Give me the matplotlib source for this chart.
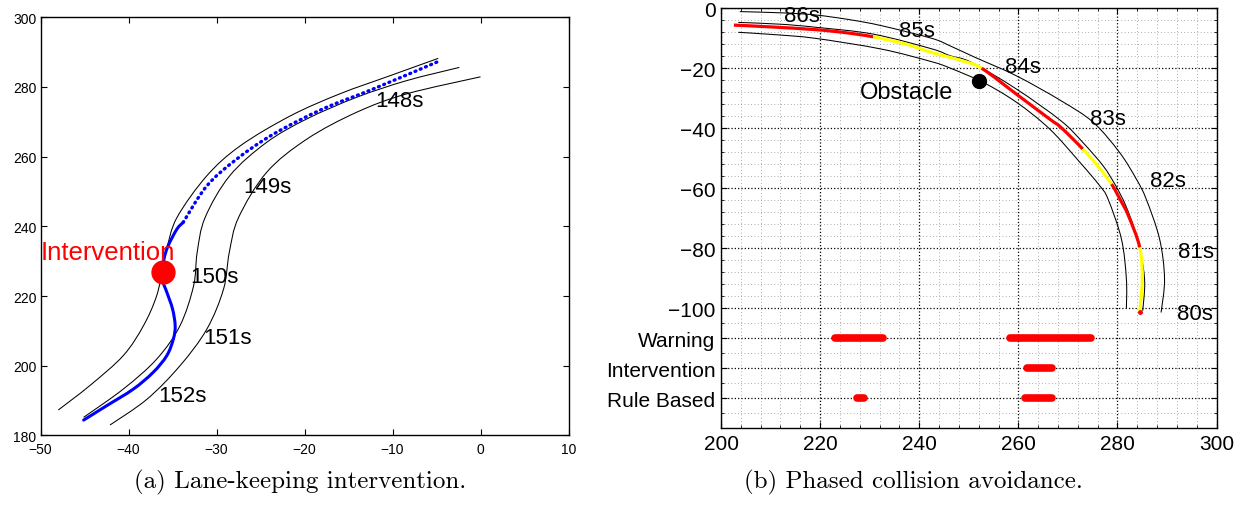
import matplotlib
matplotlib.use("Agg")
import matplotlib.pyplot as plt
from matplotlib.path import Path
from matplotlib.patches import PathPatch
import numpy as np

plt.rcParams['font.family'] = ['Liberation Sans', 'DejaVu Sans']

# ---- (a) lane keeping ----
lane_outer_x = [-47.98, -44.4, -40.6, -38.3, -36.8, -36.05, -35.66, -34.5, -31.1, -27.3, -21.6, -16.0, -10.3, -4.8]
lane_outer_y = [187.3, 194.3, 202.9, 211.5, 220.1, 228.7, 233.5, 242.5, 254.5, 263.1, 271.7, 278.0, 283.2, 288.2]
lane_mid_x = [-45.1, -40.6, -36.8, -34.15, -32.6, -32.2, -31.3, -28.5, -24.3, -19.75, -14.1, -8.4, -2.4]
lane_mid_y = [185.2, 193.3, 201.9, 211.5, 223.0, 232.5, 242.5, 254.5, 264.1, 270.8, 277.0, 281.8, 285.6]
lane_inner_x = [-42.1, -37.9, -34.15, -31.1, -29.2, -28.55, -27.5, -24.3, -19.75, -14.1, -8.4, 0.0]
lane_inner_y = [183.0, 190.4, 200.0, 210.5, 222.0, 232.5, 242.5, 255.5, 265.0, 272.7, 278.0, 282.9]

car_solid_x = [-45.1, -42.5, -39.45, -37.2, -35.65, -34.9, -34.7, -35.0, -35.65, -36.05, -36.1, -35.97, -35.5, -34.5, -33.8]
car_solid_y = [184.4, 188.5, 193.3, 198.1, 202.9, 207.7, 211.5, 216.3, 221.1, 223.9, 226.8, 230.6, 234.4, 239.2, 241.1]
car_dot_x = [-33.8, -31.1, -27.7, -23.5, -17.9, -12.2, -4.7]
car_dot_y = [241.1, 251.6, 259.3, 266.5, 273.7, 279.4, 287.4]

interv_pt = (-36.1, 226.8)
left_times = ['148s', '149s', '150s', '151s', '152s']
left_time_x = [-12.0, -26.95, -33.0, -31.5, -36.6]
left_time_y = [274.4, 249.8, 224.1, 206.5, 190.0]

# ---- (b) collision avoidance ----
road_outer_x = [203.8, 212.0, 218.95, 226.0, 232.4, 242.5, 246.2, 251.2, 259.6, 268.6, 275.1, 280.4, 283.8, 285.8, 288.5, 289.5, 288.8]
road_outer_y = [-1.1, -1.5, -2.2, -3.8, -5.8, -10.0, -12.5, -16.3, -22.5, -30.8, -38.0, -48.0, -56.9, -63.6, -76.9, -90.2, -101.4]
road_mid_x = [203.5, 212.0, 219.0, 230.7, 242.5, 246.2, 250.5, 259.6, 268.6, 273.0, 277.1, 279.6, 281.6, 283.4, 284.8, 285.5, 285.1]
road_mid_y = [-4.7, -5.3, -6.3, -8.6, -13.5, -15.8, -18.0, -26.9, -37.5, -44.7, -52.5, -59.0, -65.5, -73.5, -82.5, -91.5, -100.8]
road_inner_x = [203.5, 211.0, 219.0, 232.4, 242.5, 246.2, 252.9, 259.6, 266.3, 272.4, 276.4, 278.1, 280.8, 281.8, 281.8]
road_inner_y = [-8.0, -8.8, -10.0, -13.6, -17.8, -19.9, -24.7, -31.3, -40.2, -51.3, -59.1, -63.6, -76.9, -90.2, -100.2]

path_x = [202.6, 210.0, 219.0, 225.0, 230.7, 237.0, 242.5, 248.5, 252.6, 259.6, 266.3, 268.6, 273.0,
          276.0, 278.8, 280.5, 282.2, 284.5, 285.0, 284.5]
path_y = [-5.6, -6.2, -7.1, -8.1, -9.5, -11.8, -14.7, -17.4, -20.0, -28.6, -36.9, -39.7, -46.9,
          -52.5, -58.6, -63.6, -69.1, -79.7, -90.2, -101.1]
# index ranges of each phase along the path and its colour
phase_idx = [(0, 4), (4, 8), (8, 12), (12, 14), (14, 17), (17, 19)]
phase_col = ['red', 'yellow', 'red', 'yellow', 'red', 'yellow']

obstacle = (252.1, -24.3)
right_times = ['86s', '85s', '84s', '83s', '82s', '81s', '80s']
right_time_x = [212.8, 235.9, 257.3, 274.4, 286.5, 292.2, 292.0]
right_time_y = [-4.1, -9.3, -21.3, -38.6, -59.3, -83.0, -103.6]

warning_spans = [(223.1, 232.7), (258.4, 274.7)]
intervention_spans = [(261.7, 266.8)]
rule_spans = [(227.5, 228.8), (261.3, 266.8)]
row_y = {'Warning': -110, 'Intervention': -120, 'Rule Based': -130}

yticks_b = [-130, -120, -110, -100, -80, -60, -40, -20, 0]
ylabels_b = ['Rule Based', 'Intervention', 'Warning', '\u2212100', '\u221280', '\u221260', '\u221240', '\u221220', '0']


def bezier_pieces(xs, ys):
    # smooth curve through the read points (Catmull-Rom as cubic Bezier)
    P = np.column_stack([xs, ys]).astype(float)
    n = len(P)
    pieces = []
    for i in range(n - 1):
        p0 = P[i - 1] if i > 0 else P[i]
        p3 = P[i + 2] if i + 2 < n else P[i + 1]
        c1 = P[i] + (P[i + 1] - p0) / 6.0
        c2 = P[i + 1] - (p3 - P[i]) / 6.0
        pieces.append((P[i], c1, c2, P[i + 1]))
    return pieces


def draw_smooth(ax, pieces, **kw):
    verts = [pieces[0][0]]
    codes = [Path.MOVETO]
    for _, c1, c2, p in pieces:
        verts += [c1, c2, p]
        codes += [Path.CURVE4] * 3
    ax.add_patch(PathPatch(Path(verts, codes), fill=False, **kw))


def main():
    fig = plt.figure(figsize=(12.47, 5.06), dpi=100)

    ax = fig.add_axes([0.0325, 0.1375, 0.4234, 0.8265])
    for xs, ys in [(lane_outer_x, lane_outer_y), (lane_mid_x, lane_mid_y), (lane_inner_x, lane_inner_y)]:
        draw_smooth(ax, bezier_pieces(xs, ys), edgecolor='black', lw=0.75)
    draw_smooth(ax, bezier_pieces(car_solid_x, car_solid_y), edgecolor='blue', lw=2.2,
                capstyle='round')
    draw_smooth(ax, bezier_pieces(car_dot_x, car_dot_y), edgecolor='blue', lw=2.4,
                linestyle=(0, (0.3, 1.4)), capstyle='round')
    ax.plot(*interv_pt, 'o', color='red', ms=16.5, zorder=1)
    ax.text(-50, 230.6, 'Intervention', color='red', fontsize=18.5, ha='left', va='baseline')
    for t, x, y in zip(left_times, left_time_x, left_time_y):
        ax.text(x, y, t, fontsize=16, ha='left', va='baseline')
    ax.set_xlim(-50, 10)
    ax.set_ylim(180, 300)
    ax.set_xticks(np.arange(-50, 11, 10))
    ax.set_yticks(np.arange(180, 301, 20))
    ax.tick_params(direction='in', top=True, right=True, labelsize=10, length=4, pad=3)
    ax.tick_params(axis='x', pad=5)
    for s in ax.spines.values():
        s.set_linewidth(1.0)

    bx = fig.add_axes([0.5782, 0.1516, 0.3974, 0.830])
    for xs, ys in [(road_outer_x, road_outer_y), (road_mid_x, road_mid_y), (road_inner_x, road_inner_y)]:
        draw_smooth(bx, bezier_pieces(xs, ys), edgecolor='black', lw=0.75, zorder=3)
    pp = bezier_pieces(path_x, path_y)
    for (i0, i1), c in zip(phase_idx, phase_col):
        draw_smooth(bx, pp[i0:i1], edgecolor=c, lw=2.3, zorder=4, capstyle='butt')
    bx.plot(path_x[-1], path_y[-1], 'o', color='red', ms=2.5, zorder=5)
    bx.plot(*obstacle, 'o', color='black', ms=10, zorder=5)
    bx.text(228.0, -30.0, 'Obstacle', fontsize=17, ha='left', va='baseline')
    for t, x, y in zip(right_times, right_time_x, right_time_y):
        bx.text(x, y, t, fontsize=16, ha='left', va='baseline', zorder=6)

    for name, spans in [('Warning', warning_spans), ('Intervention', intervention_spans),
                        ('Rule Based', rule_spans)]:
        for a, b in spans:
            bx.plot([a, b], [row_y[name]] * 2, color='red', lw=5.5,
                    solid_capstyle='round', zorder=4)

    bx.set_xlim(200, 300)
    bx.set_ylim(-140, 0)
    bx.set_xticks(np.arange(200, 301, 20))
    bx.set_yticks(yticks_b)
    bx.set_yticklabels(ylabels_b)
    minor_y = [v for v in list(np.arange(-100, 1, 4)) + [-105, -115, -125, -135] if v not in yticks_b]
    bx.set_yticks(minor_y, minor=True)
    bx.set_xticks([v for v in np.arange(200, 301, 4) if v % 20], minor=True)
    bx.grid(True, which='major', color='black', linestyle=':', lw=0.9)
    bx.grid(True, which='minor', color='0.6', linestyle=(0, (0.8, 2.6)), lw=0.7)
    bx.tick_params(direction='in', top=True, right=True, labelsize=15, length=4, pad=4)
    bx.tick_params(which='minor', direction='in', top=True, right=True, length=2)
    for s in bx.spines.values():
        s.set_linewidth(1.0)

    fig.text(0.2406, 0.034, '(a) Lane-keeping intervention.', fontfamily='cmr10',
             fontsize=18, ha='center', va='baseline')
    fig.text(0.7322, 0.034, '(b) Phased collision avoidance.', fontfamily='cmr10',
             fontsize=18, ha='center', va='baseline')

    fig.savefig('out.png', dpi=100)


if __name__ == '__main__':
    main()
